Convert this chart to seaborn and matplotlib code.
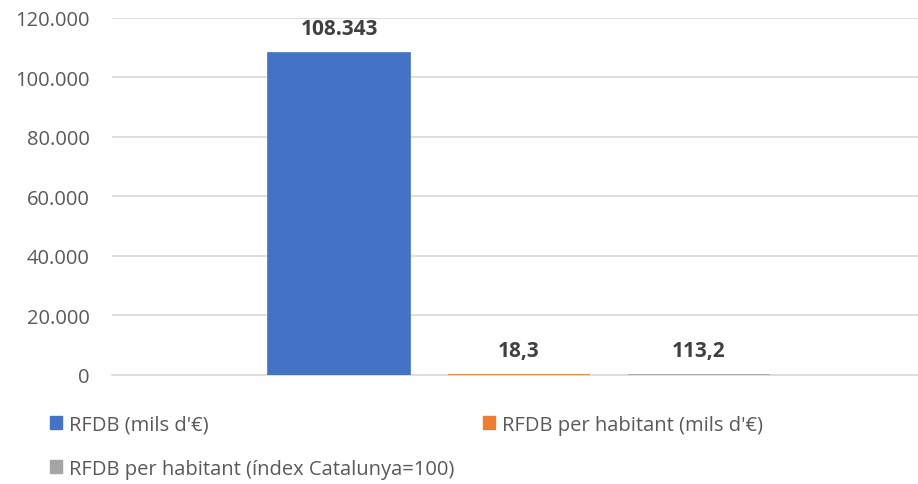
import pandas as pd
import seaborn as sns
import matplotlib.pyplot as plt
from matplotlib.ticker import FuncFormatter
from matplotlib.patches import Patch

series = ["RFDB (mils d'€)", "RFDB per habitant (mils d'€)", "RFDB per habitant (índex Catalunya=100)"]
values = [108343, 18.3, 113.2]
value_labels = ["108.343", "18,3", "113,2"]
colors = ["#4472C4", "#ED7D31", "#A5A5A5"]

df = pd.DataFrame({"cat": [""] * 3, "serie": series, "valor": values})

sns.set_style("white")
plt.rcParams['font.family'] = ['Open Sans', 'DejaVu Sans']

fig = plt.figure(figsize=(9.18, 4.85), dpi=100)
ax = fig.add_axes([0.122, 0.225, 0.878, 0.736])

sns.barplot(data=df, x="cat", y="valor", hue="serie", palette=colors, saturation=1,
            width=0.67, gap=0.21, legend=False, ax=ax, zorder=3)

# make the tiny bars visible as thin lines, like the original
for patch, c in zip(ax.patches, colors):
    patch.set_edgecolor(c)
    patch.set_linewidth(1.2)

for cont, lab in zip(ax.containers, value_labels):
    ax.bar_label(cont, labels=[lab], padding=10, fontsize=15, fontweight='bold', color='#404040')

ax.set_xlim(-0.505, 0.495)
ax.set_ylim(0, 120000)
ax.set_yticks(range(0, 120001, 20000))
ax.yaxis.set_major_formatter(FuncFormatter(lambda v, p: f"{int(v):,}".replace(",", ".")))
ax.tick_params(axis='y', labelsize=14.5, labelcolor='#595959', length=0, pad=16)
ax.set_xticks([])
ax.set_xlabel("")
ax.set_ylabel("")
ax.grid(axis='y', color='#D9D9D9', linewidth=1.2, zorder=0)
for s in ["top", "right", "left"]:
    ax.spines[s].set_visible(False)
ax.spines["bottom"].set_color('#D9D9D9')
ax.spines["bottom"].set_linewidth(1.2)

handles = [Patch(color=colors[0]), Patch(color=colors[2]), Patch(color=colors[1])]
labels = [series[0], series[2], series[1]]
fig.legend(handles, labels, ncol=2, loc='upper left', bbox_to_anchor=(0.035, 0.18),
           frameon=False, fontsize=14.5, labelcolor='#595959', handlelength=0.6,
           handleheight=0.6, handletextpad=0.35, columnspacing=1.4, labelspacing=1.2)

plt.savefig("out.png", dpi=100)
plt.close()
